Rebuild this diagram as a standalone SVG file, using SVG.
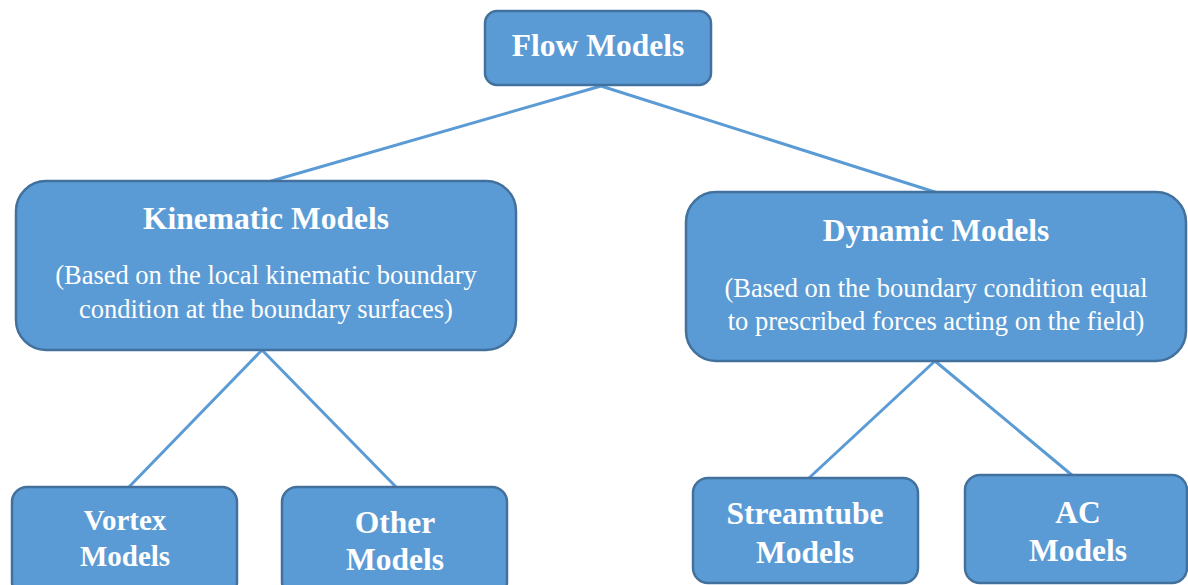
<svg xmlns="http://www.w3.org/2000/svg" width="1188" height="585" viewBox="0 0 1188 585">
<style>
.box{fill:#5b9bd5;stroke:#41719c;stroke-width:2.5}
.t{font-family:"Liberation Serif","Times New Roman",serif;fill:#fff;text-anchor:middle}
.b{font-weight:bold}
.c{stroke:#5b9bd5;stroke-width:3;fill:none}
</style>
<rect width="1188" height="585" fill="#fff"/>
<g id="connectors">
<line class="c" x1="601" y1="86" x2="268" y2="182"/>
<line class="c" x1="601" y1="86" x2="938" y2="193"/>
<line class="c" x1="262" y1="350" x2="128" y2="488"/>
<line class="c" x1="262" y1="350" x2="397" y2="488"/>
<line class="c" x1="935" y1="361" x2="809" y2="478"/>
<line class="c" x1="935" y1="361" x2="1073" y2="476"/>
</g>
<g id="flow">
<rect class="box" x="485" y="11" width="226" height="74" rx="12"/>
<text class="t b" x="598" y="56" font-size="31.5">Flow Models</text>
</g>
<g id="kinematic">
<rect class="box" x="16" y="181" width="500" height="169" rx="30"/>
<text class="t b" x="266" y="229" font-size="31.5">Kinematic Models</text>
<text class="t" x="266" y="284" font-size="26.5">(Based on the local kinematic boundary</text>
<text class="t" x="266" y="318" font-size="26.5">condition at the boundary surfaces)</text>
</g>
<g id="dynamic">
<rect class="box" x="686" y="192" width="500" height="169" rx="30"/>
<text class="t b" x="936" y="241" font-size="31.5">Dynamic Models</text>
<text class="t" x="936" y="297" font-size="26.5">(Based on the boundary condition equal</text>
<text class="t" x="936" y="330" font-size="26.5">to prescribed forces acting on the field)</text>
</g>
<g id="vortex">
<rect class="box" x="12" y="487" width="225" height="110" rx="15"/>
<text class="t b" x="125" y="530" font-size="29">Vortex</text>
<text class="t b" x="125" y="566" font-size="29">Models</text>
</g>
<g id="other">
<rect class="box" x="282" y="487" width="225" height="110" rx="15"/>
<text class="t b" x="395" y="533" font-size="31.5">Other</text>
<text class="t b" x="395" y="570" font-size="31.5">Models</text>
</g>
<g id="streamtube">
<rect class="box" x="693" y="478" width="225" height="105" rx="15"/>
<text class="t b" x="805" y="524" font-size="31.5">Streamtube</text>
<text class="t b" x="805" y="563" font-size="31.5">Models</text>
</g>
<g id="ac">
<rect class="box" x="965" y="475" width="222" height="108" rx="15"/>
<text class="t b" x="1078" y="523" font-size="31.5">AC</text>
<text class="t b" x="1078" y="561" font-size="31.5">Models</text>
</g>
</svg>
